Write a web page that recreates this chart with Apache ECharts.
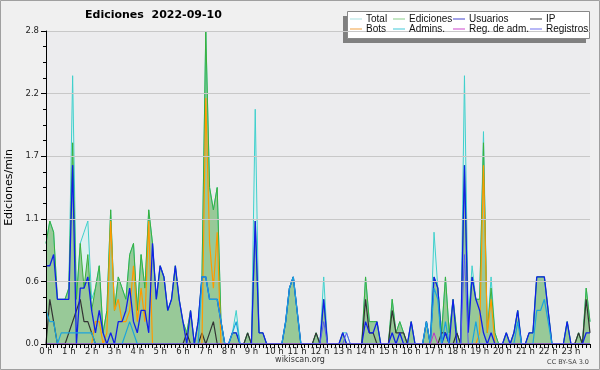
<!DOCTYPE html>
<html>
<head>
<meta charset="utf-8">
<script src="https://cdn.jsdelivr.net/npm/echarts@6/dist/echarts.min.js"></script>
<style>
  html, body { margin: 0; padding: 0; background: #f0f0f0; }
  #chart { width: 600px; height: 370px; }
</style>
</head>
<body>
<div id="chart"></div>
<script>
// etiquetas de horas (una cada 6 intervalos de 10 min)
const hourLabels = ['0 h','1 h','2 h','3 h','4 h','5 h','6 h','7 h','8 h','9 h','10 h','11 h',
  '12 h','13 h','14 h','15 h','16 h','17 h','18 h','19 h','20 h','21 h','22 h','23 h'];
const yTicks = [0, 0.56, 1.12, 1.68, 2.24, 2.8];

// ediciones por minuto, tramos de 10 min (12 valores por fila = 2 h)
const total = [
  0.9,1.1,1.0,0.4,0.4,0.4, 0.5,2.4,0.4,0.9,1.0,1.1,
  0.4,0.5,0.7,0.1,0.3,1.2, 0.3,0.6,0.5,0.4,0.8,0.9,
  0.3,0.8,0.5,1.2,0.9,0.4, 0.7,0.6,0.3,0.4,0.7,0.4,
  0.2,0.1,0.3,0,0.2,0.6, 2.8,1.4,1.2,1.4,0.2,0,
  0,0.1,0.3,0,0,0.1, 0,2.1,0.1,0.1,0,0,
  0,0,0,0.2,0.5,0.6, 0.3,0,0,0,0,0.1,
  0,0.6,0,0,0,0, 0.1,0.1,0,0,0,0,
  0.6,0.2,0.2,0.2,0,0, 0,0.4,0.1,0.2,0.1,0,
  0.2,0,0,0,0.2,0, 1.0,0.5,0.1,0.6,0.1,0.4,
  0.1,0,2.4,0.2,0.7,0.4, 0.4,1.9,0.1,0.6,0.1,0,
  0,0.1,0,0.1,0.3,0, 0,0.1,0.1,0.6,0.6,0.6,
  0.3,0,0,0,0,0.2, 0,0,0.1,0,0.5,0.2
];
const ediciones = [
  0.9,1.1,1.0,0.4,0.4,0.4, 0.5,1.8,0.4,0.9,0.5,0.8,
  0.3,0.5,0.7,0.1,0.3,1.2, 0.3,0.6,0.5,0.4,0.8,0.9,
  0.3,0.8,0.5,1.2,0.9,0.4, 0.7,0.6,0.3,0.4,0.7,0.4,
  0.2,0.1,0.3,0,0.2,0.6, 2.8,1.4,1.2,1.4,0.2,0,
  0,0.1,0.1,0,0,0.1, 0,1.1,0.1,0.1,0,0,
  0,0,0,0.2,0.5,0.6, 0.3,0,0,0,0,0.1,
  0,0.4,0,0,0,0, 0.1,0,0,0,0,0,
  0.6,0.2,0.2,0.2,0,0, 0,0.4,0.1,0.2,0.1,0,
  0.2,0,0,0,0.2,0, 0.6,0.5,0.1,0.6,0.1,0.4,
  0.1,0,1.6,0.2,0.6,0.4, 0.4,1.8,0.1,0.5,0.1,0,
  0,0.1,0,0.1,0.3,0, 0,0.1,0.1,0.6,0.6,0.6,
  0.3,0,0,0,0,0.2, 0,0,0.1,0,0.5,0.2
];
const usuarios = [
  0.7,0.7,0.8,0.4,0.4,0.4, 0.4,1.6,0,0.5,0.5,0.6,
  0.3,0.1,0.3,0.1,0,0.1, 0,0.2,0.2,0.3,0.5,0.2,
  0.1,0.3,0.3,0.1,0.9,0.4, 0.7,0.6,0.3,0.4,0.7,0.4,
  0.2,0,0.3,0,0.2,0.6, 0.6,0.4,0.4,0.4,0.2,0,
  0,0.1,0.1,0,0,0, 0,1.1,0.1,0.1,0,0,
  0,0,0,0.2,0.5,0.6, 0.3,0,0,0,0,0,
  0,0.4,0,0,0,0, 0.1,0,0,0,0,0,
  0.2,0.1,0.1,0.2,0,0, 0,0.1,0,0.1,0,0,
  0.2,0,0,0,0.2,0, 0.6,0.5,0,0.1,0,0.4,
  0,0,1.6,0.1,0.6,0.4, 0.3,0.1,0,0.1,0,0,
  0,0.1,0,0.1,0.3,0, 0,0.1,0.1,0.6,0.6,0.6,
  0.3,0,0,0,0,0.2, 0,0,0,0,0.1,0.1
];
const ip = [
  0,0.4,0.2,0,0,0, 0.1,0.2,0.3,0.4,0.2,0.2,
  0.1,0,0,0,0,0, 0,0,0,0,0,0,
  0,0,0,0,0,0, 0,0,0,0,0,0,
  0,0.1,0,0,0,0.1, 0,0.1,0.2,0,0,0,
  0,0,0,0,0,0.1, 0,0,0,0,0,0,
  0,0,0,0,0,0, 0,0,0,0,0,0.1,
  0,0,0,0,0,0, 0,0,0,0,0,0,
  0.4,0.1,0.1,0,0,0, 0,0.3,0.1,0.1,0.1,0,
  0,0,0,0,0,0, 0,0,0.1,0.1,0,0,
  0.1,0,0,0,0,0, 0,0,0,0,0,0,
  0,0,0,0,0,0, 0,0,0,0,0,0,
  0,0,0,0,0,0, 0,0,0.1,0,0.4,0.1
];
const bots = [
  0,0,0,0,0,0, 0,0,0,0,0,0,
  0,0.2,0.2,0,0.1,1.1, 0.3,0.4,0.2,0.2,0.3,0.7,
  0.2,0.5,0.2,1.1,0,0, 0,0,0,0,0,0,
  0,0,0,0,0,0, 2.2,0.9,0.5,1.0,0,0,
  0,0,0,0,0,0, 0,0,0,0,0,0,
  0,0,0,0,0,0, 0,0,0,0,0,0,
  0,0,0,0,0,0, 0,0,0,0,0,0,
  0,0,0,0,0,0, 0,0,0,0,0,0,
  0,0,0,0,0,0, 0,0,0,0,0,0,
  0,0,0,0,0,0, 0.1,1.6,0.1,0.4,0,0,
  0,0,0,0,0,0, 0,0,0,0,0,0,
  0,0,0,0,0,0, 0,0,0,0,0,0
];
const admins = [
  0.3,0.2,0.2,0,0.1,0.1, 0.1,0.1,0.1,0.1,0.1,0.1,
  0.1,0,0,0,0,0, 0,0,0,0.1,0.2,0.1,
  0,0,0,0,0,0, 0,0,0,0,0,0,
  0,0,0,0,0,0.6, 0.6,0.4,0.4,0.4,0.2,0,
  0,0.1,0.2,0,0,0, 0,0,0,0,0,0,
  0,0,0,0.2,0.5,0.6, 0.3,0,0,0,0,0,
  0,0,0,0,0,0, 0,0,0,0,0,0,
  0,0,0,0,0,0, 0,0,0,0,0,0,
  0,0,0,0,0.2,0, 0.5,0.4,0,0.2,0,0,
  0,0,0,0,0,0.2, 0,0,0,0,0,0,
  0,0,0,0,0.2,0, 0,0,0,0.3,0.3,0.4,
  0.2,0,0,0,0,0, 0,0,0,0,0,0
];
const regAdm = [
  0,0,0,0,0,0, 0,0,0,0,0,0,
  0,0,0,0,0,0, 0,0,0,0,0,0,
  0,0,0,0,0,0, 0,0,0,0,0,0,
  0,0,0,0,0,0, 0,0,0,0,0,0,
  0,0,0,0,0,0, 0,0,0,0,0,0,
  0,0,0,0,0,0, 0,0,0,0,0,0,
  0,0,0,0,0,0, 0,0,0,0,0,0,
  0,0,0,0,0,0, 0,0,0,0,0,0,
  0,0,0,0,0,0, 0.1,0,0,0,0,0,
  0,0,0,0,0,0, 0,0,0,0,0,0,
  0,0,0,0,0,0, 0,0,0,0,0,0,
  0,0,0,0,0,0, 0,0,0,0,0,0
];
const registros = [
  0,0,0,0,0,0, 0,0,0,0,0,0,
  0,0,0,0,0,0, 0,0,0,0,0,0,
  0,0,0,0,0,0, 0,0,0,0,0,0,
  0,0,0,0,0,0, 0,0,0,0,0,0,
  0,0,0,0,0,0, 0,0,0,0,0,0,
  0,0,0,0,0,0, 0,0,0,0,0,0,
  0,0.2,0,0,0,0, 0,0.1,0,0,0,0,
  0,0,0,0,0,0, 0,0,0,0,0,0,
  0,0,0,0,0,0, 0,0,0,0,0,0,
  0,0,0.8,0,0,0, 0,0,0,0,0,0,
  0,0,0,0,0,0, 0,0,0,0,0,0,
  0,0,0,0,0,0, 0,0,0,0,0,0
];

// tramos de 10 minutos
const slots = [];
for (let h = 0; h < 24; h++) {
  for (let m = 0; m < 60; m += 10) slots.push(h + ':' + (m < 10 ? '0' : '') + m);
}

const font = 'DejaVu Sans';

function lineSerie(name, data, color, width, area) {
  const s = {
    name: name,
    type: 'line',
    data: data,
    symbol: 'none',
    lineStyle: { color: color, width: width },
    itemStyle: { color: color },
    emphasis: { disabled: true }
  };
  if (area) s.areaStyle = { color: area, opacity: 1 };
  return s;
}

function legendCol(left, items) {
  return {
    left: left,
    top: 14,
    z: 20,
    orient: 'vertical',
    padding: 0,
    itemGap: 0,
    itemWidth: 12,
    itemHeight: 1,
    icon: 'rect',
    selectedMode: false,
    itemStyle: { borderWidth: 0 },
    textStyle: { fontFamily: 'Liberation Sans', fontSize: 10, color: '#111', lineHeight: 10, padding: [0, 0, 0, -1] },
    data: items.map(function (it) { return { name: it[0], itemStyle: { color: it[1] } }; })
  };
}

const chart = echarts.init(document.getElementById('chart'));
chart.setOption({
  animation: false,
  backgroundColor: '#f0f0f0',
  textStyle: { fontFamily: font },
  title: [
    { text: 'Ediciones  2022-09-10', left: 85, top: 10, padding: 0,
      textStyle: { fontFamily: font, fontSize: 11, fontWeight: 'bold', color: '#000' } },
    { text: 'wikiscan.org', left: 'center', top: 356, padding: 0,
      textStyle: { fontFamily: font, fontSize: 8, fontWeight: 'normal', color: '#333' } },
    { text: 'CC BY-SA 3.0', right: 11, top: 359, padding: 0,
      textStyle: { fontFamily: font, fontSize: 6.5, fontWeight: 'normal', color: '#444' } }
  ],
  graphic: [
    { type: 'rect', shape: { x: 0.5, y: 0.5, width: 599, height: 369 },
      style: { fill: 'none', stroke: '#a0a0a0', lineWidth: 1 }, z: 100 },
    { type: 'rect', shape: { x: 343, y: 16, width: 243, height: 27 },
      style: { fill: '#808080' }, z: 1 },
    { type: 'rect', shape: { x: 347.5, y: 11.5, width: 242, height: 27 },
      style: { fill: '#ffffff', stroke: '#888', lineWidth: 1 }, z: 2 }
  ],
  legend: [
    legendCol(350, [['Total', '#a8e0e0'], ['Bots', '#f0a040']]),
    legendCol(393, [['Ediciones', '#88cc88'], ['Admins.', '#40c8d8']]),
    legendCol(453, [['Usuarios', '#4040cc'], ['Reg. de adm.', '#cc44cc']]),
    legendCol(530, [['IP', '#333333'], ['Registros', '#7070ee']])
  ],
  grid: {
    left: 46, right: 10, top: 31, bottom: 26,
    outerBoundsMode: 'none',
    containLabel: false,
    show: true, backgroundColor: '#ececee', borderWidth: 0
  },
  xAxis: {
    type: 'category',
    data: slots,
    boundaryGap: false,
    z: 10,
    axisLine: { lineStyle: { color: '#000', width: 1 } },
    axisTick: { interval: 0, length: 4, lineStyle: { color: '#000' } },
    axisLabel: {
      interval: 5, margin: 3, fontSize: 8.5, color: '#222',
      formatter: function (v, i) { return hourLabels[i / 6]; }
    },
    splitLine: { show: false }
  },
  yAxis: {
    type: 'value',
    min: yTicks[0],
    max: yTicks[yTicks.length - 1],
    interval: yTicks[1],
    z: 10,
    name: 'Ediciones/min',
    nameLocation: 'middle',
    nameGap: 30,
    nameTextStyle: { fontFamily: font, fontSize: 11, color: '#000' },
    axisLine: { show: true, lineStyle: { color: '#000', width: 1 } },
    axisTick: { show: true, length: 5, lineStyle: { color: '#000' } },
    minorTick: { show: true, splitNumber: 4, length: 3, lineStyle: { color: '#000' } },
    axisLabel: {
      margin: 7, fontSize: 8.5, color: '#222',
      formatter: function (v) { return v.toFixed(1); }
    },
    splitLine: { show: true, lineStyle: { color: '#c8c8c8', width: 1 } }
  },
  series: [
    lineSerie('Total', total, '#3fd0cc', 1, '#dcf0f0'),
    lineSerie('Ediciones', ediciones, '#3bb03b', 1, '#98c998'),
    lineSerie('IP', ip, '#333333', 1.2),
    lineSerie('Bots', bots, '#ff9a00', 1.2),
    lineSerie('Usuarios', usuarios, '#1020e8', 1.3),
    lineSerie('Admins.', admins, '#1ca4dc', 1.2),
    lineSerie('Reg. de adm.', regAdm, '#bb33cc', 1),
    lineSerie('Registros', registros, '#5a5af0', 1)
  ]
});
</script>
</body>
</html>
